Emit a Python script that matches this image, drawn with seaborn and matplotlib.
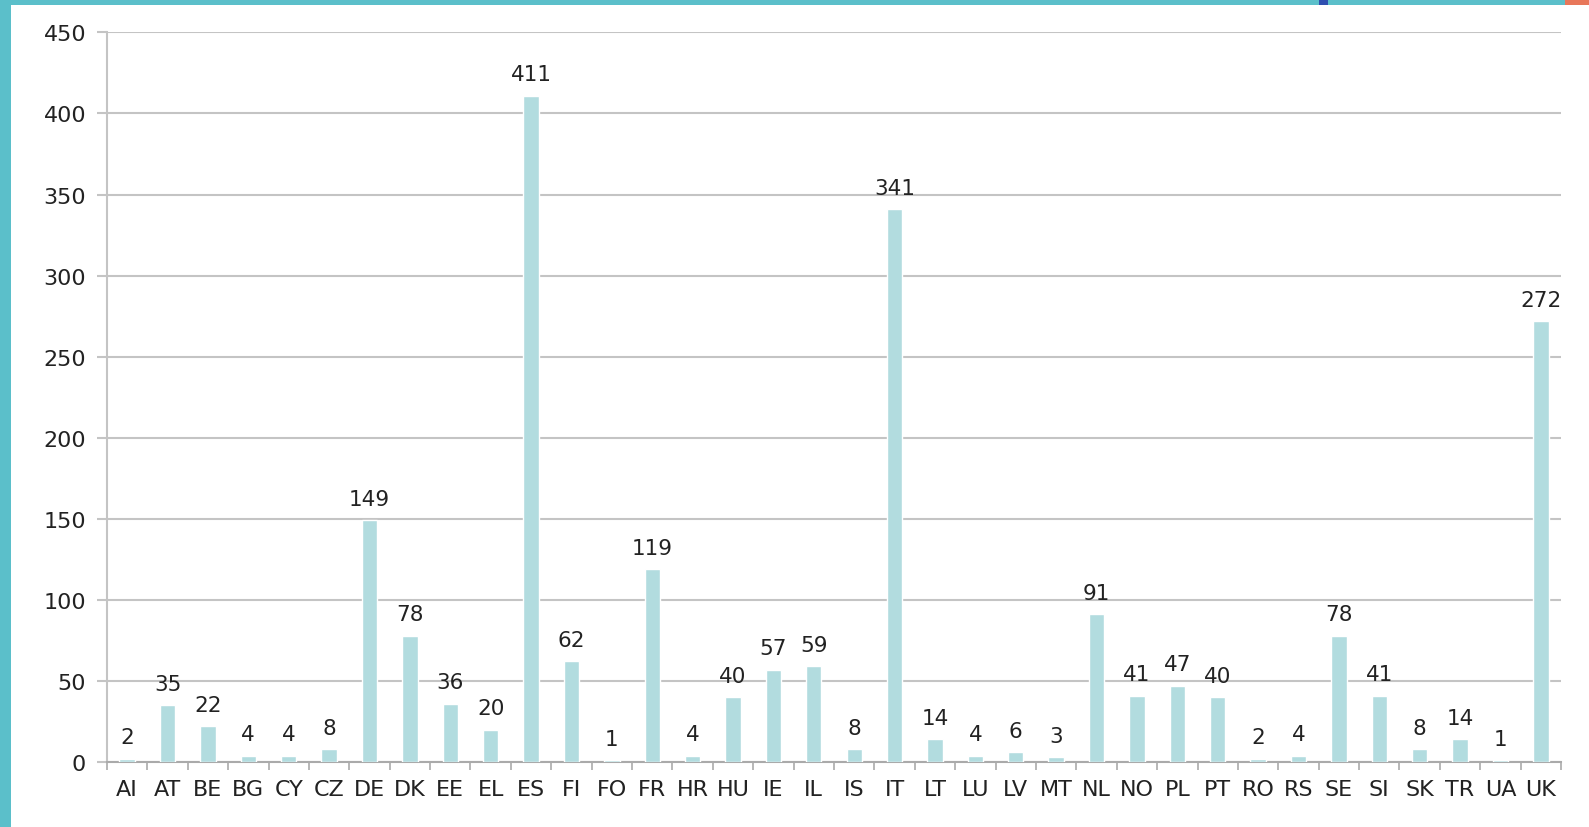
import numpy as np
import pandas as pd
import seaborn as sns
import matplotlib.pyplot as plt
from matplotlib.patches import Rectangle

countries = ['AI', 'AT', 'BE', 'BG', 'CY', 'CZ', 'DE', 'DK', 'EE', 'EL', 'ES', 'FI',
             'FO', 'FR', 'HR', 'HU', 'IE', 'IL', 'IS', 'IT', 'LT', 'LU', 'LV', 'MT',
             'NL', 'NO', 'PL', 'PT', 'RO', 'RS', 'SE', 'SI', 'SK', 'TR', 'UA', 'UK']
values = [2, 35, 22, 4, 4, 8, 149, 78, 36, 20, 411, 62,
          1, 119, 4, 40, 57, 59, 8, 341, 14, 4, 6, 3,
          91, 41, 47, 40, 2, 4, 78, 41, 8, 14, 1, 272]
y_ticks = [0, 50, 100, 150, 200, 250, 300, 350, 400, 450]

df = pd.DataFrame({'country': countries, 'value': values})

sns.set_style('white')
plt.rcParams['font.family'] = ['DejaVu Sans']

fig = plt.figure(figsize=(15.89, 8.28), dpi=100, facecolor='white')
# teal slide border on the left and top
fig.patches.append(Rectangle((0, 0), 0.007, 1.0, transform=fig.transFigure,
                             facecolor='#5bbfca', edgecolor='none', zorder=-10))
fig.patches.append(Rectangle((0, 0.9925), 1.0, 0.0075, transform=fig.transFigure,
                             facecolor='#5bbfca', edgecolor='none', zorder=-10))
fig.patches.append(Rectangle((0.83, 0.9925), 0.006, 0.0075, transform=fig.transFigure,
                             facecolor='#2f4fb0', edgecolor='none', zorder=-9))
fig.patches.append(Rectangle((0.985, 0.9925), 0.015, 0.0075, transform=fig.transFigure,
                             facecolor='#e8775a', edgecolor='none', zorder=-9))

ax = fig.add_axes([0.0673, 0.0785, 0.9151, 0.8812])
ax.set_facecolor('white')

sns.barplot(data=df, x='country', y='value', color='#b2dcdf', saturation=1,
            width=0.38, ax=ax, zorder=3)

for i, v in enumerate(values):
    ax.text(i, v + 7, str(v), ha='center', va='bottom', fontsize=15.5, color='#222222')

ax.set_ylim(0, 450)
ax.set_xlim(-0.5, len(countries) - 0.5)
ax.set_yticks(y_ticks)
ax.yaxis.grid(True, color='#c4c4c4', linewidth=1.5, zorder=0)
ax.set_axisbelow(True)

ax.set_xticks(np.arange(len(countries)))
ax.set_xticklabels(countries, fontsize=16, color='#222222')
ax.set_xticks(np.arange(-0.5, len(countries)), minor=True)
ax.tick_params(axis='x', which='major', bottom=False, length=0, pad=12)
ax.tick_params(axis='x', which='minor', bottom=True, length=6, width=1.2,
               color='#aaaaaa', direction='out')
ax.tick_params(axis='y', left=True, length=7, width=1.5, color='#c4c4c4', labelsize=16,
               labelcolor='#222222', pad=8)

for s in ['top', 'right']:
    ax.spines[s].set_visible(False)
ax.spines['left'].set_color('#c4c4c4')
ax.spines['left'].set_linewidth(1.5)
ax.spines['bottom'].set_color('#aaaaaa')
ax.spines['bottom'].set_linewidth(1.5)

ax.set_xlabel('')
ax.set_ylabel('')

fig.savefig('out.png', dpi=100, facecolor=fig.get_facecolor())
